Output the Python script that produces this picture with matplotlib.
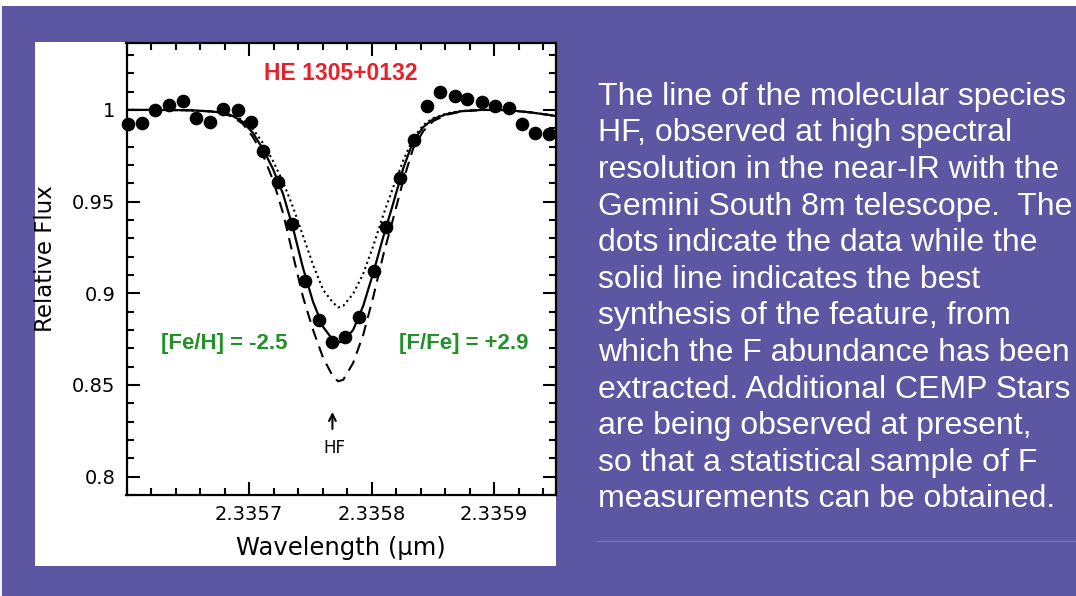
import matplotlib
matplotlib.use("Agg")
import matplotlib.pyplot as plt
from matplotlib.patches import Rectangle
from matplotlib.lines import Line2D
from matplotlib.ticker import MultipleLocator, FixedLocator

# ---------------- data ----------------
obs_wave = [2.3356014, 2.3356129, 2.3356232, 2.3356346, 2.3356464, 2.3356565,
            2.3356682, 2.3356788, 2.3356906, 2.3357015, 2.3357111, 2.3357233,
            2.3357348, 2.3357459, 2.3357574, 2.3357678, 2.3357784, 2.3357893,
            2.3358019, 2.3358120, 2.3358230, 2.3358343, 2.3358453, 2.3358561,
            2.3358678, 2.3358782, 2.3358899, 2.3359006, 2.3359120, 2.3359224,
            2.3359333, 2.3359448]
obs_flux = [0.9922, 0.9927, 1.0000, 1.0029, 1.0051, 0.9955,
            0.9935, 1.0004, 1.0000, 0.9933, 0.9776, 0.9609,
            0.9377, 0.9069, 0.8855, 0.8733, 0.8759, 0.8873,
            0.9124, 0.9364, 0.9629, 0.9836, 1.0022, 1.0097,
            1.0076, 1.0060, 1.0042, 1.0022, 1.0009, 0.9924,
            0.9873, 0.9868]

syn_wave = [2.3356000, 2.3356278, 2.3356524, 2.3356687, 2.3356786, 2.3356867,
            2.3356949, 2.3357031, 2.3357113, 2.3357195, 2.3357277, 2.3357358,
            2.3357440, 2.3357522, 2.3357604, 2.3357686, 2.3357727, 2.3357768,
            2.3357849, 2.3357931, 2.3358013, 2.3358095, 2.3358177, 2.3358259,
            2.3358340, 2.3358422, 2.3358504, 2.3358611, 2.3358733, 2.3358897,
            2.3359102, 2.3359306, 2.3359503]
syn_best = [1.0000, 1.0000, 0.9998, 0.9992, 0.9984, 0.9967,
            0.9935, 0.9875, 0.9787, 0.9678, 0.9542, 0.9357,
            0.9138, 0.8953, 0.8817, 0.8743, 0.8732, 0.8738,
            0.8800, 0.8931, 0.9111, 0.9308, 0.9493, 0.9684,
            0.9831, 0.9907, 0.9951, 0.9977, 0.9993, 1.0000,
            0.9999, 0.9986, 0.9967]
syn_low = [1.0000, 1.0000, 0.9998, 0.9992, 0.9984, 0.9970,
           0.9945, 0.9896, 0.9820, 0.9722, 0.9607, 0.9471,
           0.9313, 0.9155, 0.9019, 0.8948, 0.8923, 0.8931,
           0.8997, 0.9106, 0.9258, 0.9427, 0.9580, 0.9727,
           0.9847, 0.9918, 0.9956, 0.9981, 0.9995, 1.0000,
           0.9999, 0.9986, 0.9967]
syn_high = [1.0000, 1.0000, 0.9998, 0.9992, 0.9981, 0.9962,
            0.9924, 0.9853, 0.9755, 0.9618, 0.9438, 0.9209,
            0.8980, 0.8800, 0.8648, 0.8544, 0.8520, 0.8528,
            0.8620, 0.8773, 0.8980, 0.9209, 0.9411, 0.9618,
            0.9793, 0.9885, 0.9940, 0.9973, 0.9992, 1.0000,
            0.9999, 0.9986, 0.9967]

x_ticks = [2.3357, 2.3358, 2.3359]
x_ticklabels = ["2.3357", "2.3358", "2.3359"]
y_ticks = [0.8, 0.85, 0.9, 0.95, 1.0]
y_ticklabels = ["0.8", "0.85", "0.9", "0.95", "1"]

title_star = "HE 1305+0132"
label_feh = "[Fe/H] = -2.5"
label_ffe = "[F/Fe] = +2.9"
label_hf = "HF"

desc_lines = [
    "The line of the molecular species",
    "HF, observed at high spectral",
    "resolution in the near-IR with the",
    "Gemini South 8m telescope.  The",
    "dots indicate the data while the",
    "solid line indicates the best",
    "synthesis of the feature, from",
    "which the F abundance has been",
    "extracted. Additional CEMP Stars",
    "are being observed at present,",
    "so that a statistical sample of F",
    "measurements can be obtained.",
]

# ---------------- figure ----------------
W, H = 1076, 596
PURPLE = "#5d56a2"
fig = plt.figure(figsize=(W / 100, H / 100), dpi=100)
fig.patch.set_facecolor(PURPLE)

def fx(px):
    return px / W

def fy(py):
    return 1 - py / H

# thin white strips at top and left edge
fig.patches.append(Rectangle((0, fy(6)), 1, 6 / H, transform=fig.transFigure,
                             facecolor="white", edgecolor="none", zorder=-10))
fig.patches.append(Rectangle((0, 0), 2 / W, 1, transform=fig.transFigure,
                             facecolor="#f4f4f8", edgecolor="none", zorder=-10))
# white panel behind the chart
fig.patches.append(Rectangle((fx(35), fy(566)), (556 - 35) / W, (566 - 42) / H,
                             transform=fig.transFigure, facecolor="white",
                             edgecolor="none", zorder=-10))
# faint separator line on the right
fig.lines.append(Line2D([fx(597), 1.0], [fy(541), fy(541)], transform=fig.transFigure,
                        color="#7a73b9", lw=0.9, zorder=-5))

ax = fig.add_axes([fx(126.5), fy(495), (555.5 - 126.5) / W, (495 - 43) / H])
ax.set_zorder(5)
ax.set_facecolor("white")

ax.plot(syn_wave, syn_low, color="black", lw=1.5, linestyle=(0, (1, 1.6)), zorder=2)
ax.plot(syn_wave, syn_high, color="black", lw=1.5, linestyle=(0, (5.5, 3.5)), zorder=2)
ax.plot(syn_wave, syn_best, color="black", lw=1.6, linestyle="-", zorder=3)
ax.plot(obs_wave, obs_flux, "o", color="black", ms=8.8, mec="black", zorder=4,
        clip_on=False)

ax.set_xlim(2.33560, 2.33595)
ax.set_ylim(0.790, 1.0365)

ax.xaxis.set_major_locator(FixedLocator(x_ticks))
ax.set_xticklabels(x_ticklabels)
ax.xaxis.set_minor_locator(MultipleLocator(0.00002))
ax.yaxis.set_major_locator(FixedLocator(y_ticks))
ax.set_yticklabels(y_ticklabels)
ax.yaxis.set_minor_locator(MultipleLocator(0.01))

ax.tick_params(which="both", direction="in", top=True, right=True, width=1.5,
               color="black")
ax.tick_params(which="major", length=9.5, labelsize=14, pad=7)
ax.tick_params(which="minor", length=4.8)
ax.tick_params(axis="y", which="major", pad=8)
for s in ax.spines.values():
    s.set_linewidth(1.6)

ax.set_xlabel("Wavelength (μm)", fontsize=17.5, labelpad=9)
fig.text(fx(45.5), fy(259), "Relative Flux", rotation=90, fontsize=16.5,
         ha="center", va="center", zorder=6)

ax.text(2.3357747, 1.0200, title_star, color="#e8202a", fontsize=16.5,
        fontweight="bold", ha="center", va="center",
        family=["Liberation Sans", "DejaVu Sans"])
ax.text(2.3356794, 0.8728, label_feh, color="#23902b", fontsize=16,
        fontweight="bold", ha="center", va="center",
        family=["Liberation Sans", "DejaVu Sans"])
ax.text(2.3358754, 0.8728, label_ffe, color="#23902b", fontsize=16,
        fontweight="bold", ha="center", va="center",
        family=["Liberation Sans", "DejaVu Sans"])
ax.annotate("", xy=(2.3357680, 0.8368), xytext=(2.3357680, 0.8245),
            arrowprops=dict(arrowstyle="->", color="black", lw=1.5,
                            mutation_scale=12))
ax.text(2.3357694, 0.8157, label_hf, fontsize=12, ha="center", va="center")

# descriptive text on the right
for i, line in enumerate(desc_lines):
    baseline = 104.7 + i * 36.6
    fig.text(fx(598), fy(baseline), line, color="white", fontsize=23,
             family=["Liberation Sans", "DejaVu Sans"], ha="left", va="baseline")

fig.savefig("out.png", dpi=100, facecolor=fig.get_facecolor())
